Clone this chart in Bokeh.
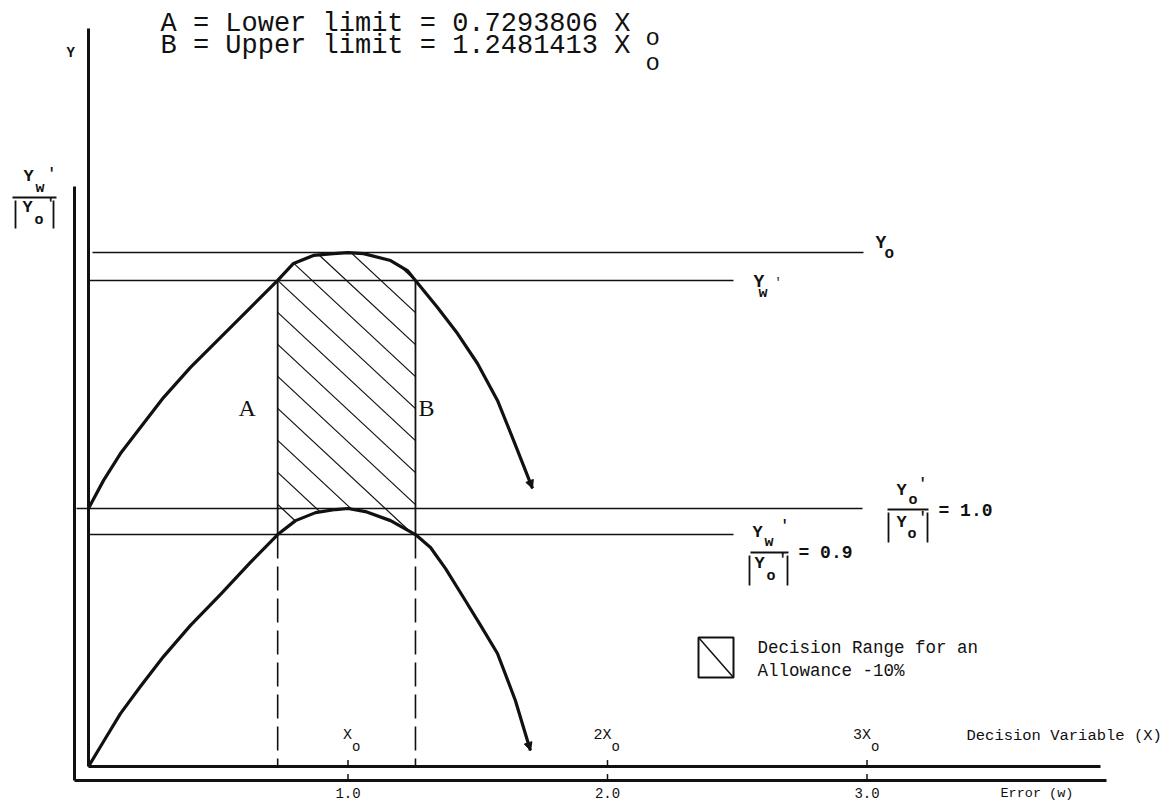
import numpy as np
from bokeh.plotting import figure
from bokeh.models import Range1d, Label, Arrow, NormalHead
from bokeh.embed import file_html
from bokeh.resources import INLINE

# ---------------- data ----------------
# x in units of X_o (decision variable), y in units of |Y_o'|
upper_x = [0.0, 0.058, 0.123, 0.200, 0.289, 0.393, 0.509, 0.624, 0.729, 0.790, 0.867,
           0.944, 1.0, 1.060, 1.164, 1.229, 1.26, 1.345, 1.422, 1.499, 1.576, 1.638, 1.711]
upper_y = [1.0, 1.109, 1.213, 1.314, 1.430, 1.547, 1.663, 1.779, 1.884, 1.950, 1.981,
           1.988, 1.992, 1.988, 1.961, 1.922, 1.884, 1.779, 1.678, 1.562, 1.419, 1.264, 1.078]
lower_x = [0.0, 0.058, 0.123, 0.200, 0.289, 0.393, 0.509, 0.624, 0.729, 0.798, 0.875,
           0.952, 1.0, 1.067, 1.164, 1.26, 1.318, 1.376, 1.445, 1.511, 1.576, 1.645, 1.703]
lower_y = [0.0, 0.097, 0.205, 0.310, 0.426, 0.547, 0.667, 0.791, 0.899, 0.953, 0.984,
           0.996, 1.0, 0.988, 0.953, 0.899, 0.849, 0.767, 0.655, 0.547, 0.438, 0.256, 0.062]

level_Yo = 1.992        # Y_o
level_Yw = 1.884        # Y_w'
ratio_o = 1.0           # Y_o'/|Y_o'|
ratio_w = 0.899         # Y_w'/|Y_o'|
A_x = 0.729             # lower limit (drawn)
B_x = 1.26              # upper limit (drawn)
A_text = "0.7293806"
B_text = "1.2481413"

tick_x = [1.0, 2.0, 3.0]
tick_labels = ["1.0", "2.0", "3.0"]
dv_labels = ["X", "2X", "3X"]

# ---------------- layout helpers (annotation placement) ----------------
X0, XS, Y0, YS = 88.0, 259.5, 766.0, 258.0
def X(px):
    return (px - X0) / XS
def Y(py):
    return (Y0 - py) / YS

W, H = 1167, 804
p = figure(width=W, height=H, output_backend="svg", toolbar_location=None,
           x_range=Range1d(X(0), X(W)), y_range=Range1d(Y(H), Y(0)),
           x_axis_location=None, y_axis_location=None, min_border=0,
           outline_line_color=None, background_fill_color="white",
           border_fill_color="white")
p.grid.visible = False

INK = "#111111"
MONO = "Liberation Mono"
SERIF = "Liberation Serif"

# ---------------- axes (double frame) ----------------
off = X(74)
p.segment(x0=[0, 0], y0=[0, 0], x1=[X(1100), 0], y1=[0, Y(28)], line_color=INK, line_width=3)
p.segment(x0=[off, off], y0=[Y(780), Y(780)], x1=[X(1106), off], y1=[Y(780), Y(186)],
          line_color=INK, line_width=3)
tx = np.array(tick_x)
p.segment(x0=tx, y0=np.zeros(3), x1=tx, y1=np.full(3, 0.025), line_color=INK, line_width=1.5)
p.segment(x0=tx, y0=np.full(3, Y(780)), x1=tx, y1=np.full(3, Y(780) + 0.025), line_color=INK, line_width=1.5)

# ---------------- horizontal reference lines ----------------
p.segment(x0=[X(92), 0, X(76), 0], y0=[level_Yo, level_Yw, ratio_o, ratio_w],
          x1=[X(863), X(733), X(862), X(733)], y1=[level_Yo, level_Yw, ratio_o, ratio_w],
          line_color=INK, line_width=1.6)

# ---------------- hatched decision range (lines clipped between the curves) ----------------
gx = np.linspace(A_x, B_x, 600)
top = np.interp(gx, upper_x, upper_y)
bot = np.interp(gx, lower_x, lower_y)
slope = 0.93 * XS / YS            # hatch direction, "\" at about 43 degrees
step = 32.0 / YS                  # vertical spacing of hatch lines
hxs, hys = [], []
for k in range(-8, 40):
    yl = level_Yw - k * step - slope * (gx - A_x)
    inside = (yl <= top + 1e-9) & (yl >= bot - 1e-9)
    idx = np.flatnonzero(inside)
    if idx.size < 2:
        continue
    runs = np.split(idx, np.flatnonzero(np.diff(idx) > 1) + 1)
    for r in runs:
        if r.size >= 2:
            hxs.append([gx[r[0]], gx[r[-1]]])
            hys.append([yl[r[0]], yl[r[-1]]])
p.multi_line(hxs, hys, line_color=INK, line_width=1.2)

# ---------------- vertical limit lines ----------------
p.segment(x0=[A_x, B_x], y0=[level_Yw, level_Yw], x1=[A_x, B_x], y1=[ratio_w, ratio_w],
          line_color=INK, line_width=1.8)
p.segment(x0=[A_x, B_x], y0=[ratio_w, ratio_w], x1=[A_x, B_x], y1=[0, 0],
          line_color=INK, line_width=1.6, line_dash="24 8")

# ---------------- curves ----------------
p.line(upper_x, upper_y, line_color=INK, line_width=3.2, line_join="round")
p.line(lower_x, lower_y, line_color=INK, line_width=3.2, line_join="round")
for xs, ys in ((upper_x, upper_y), (lower_x, lower_y)):
    p.add_layout(Arrow(end=NormalHead(size=8, fill_color=INK, line_color=INK, line_width=1),
                       x_start=xs[-2], y_start=ys[-2], x_end=xs[-1], y_end=ys[-1],
                       line_alpha=0))

# ---------------- legend box ----------------
p.quad(left=[X(698)], right=[X(733)], top=[Y(637)], bottom=[Y(677)],
       fill_alpha=0, line_color=INK, line_width=2)
p.segment(x0=[X(698)], y0=[Y(637)], x1=[X(733)], y1=[Y(677)], line_color=INK, line_width=1.5)


def lab(text, px, py, size, font=MONO, style="normal", align="left", xdata=None):
    # py is the wanted baseline (page px); compensate the renderer's baseline shift
    k = 0.42 if font == SERIF else 0.33
    xx = X(px) if xdata is None else xdata
    p.add_layout(Label(x=xx, y=Y(py - k * size), text=text, text_font=font,
                       text_font_size=f"{size}px", text_font_style=style,
                       text_align=align, text_baseline="alphabetic", text_color=INK,
                       x_offset=0 if xdata is None else px))


def bar(px0, px1, py):
    p.segment(x0=[X(px0)], y0=[Y(py)], x1=[X(px1)], y1=[Y(py)], line_color=INK, line_width=1.8)


def vbar(px, py0, py1):
    p.segment(x0=[X(px)], y0=[Y(py0)], x1=[X(px)], y1=[Y(py1)], line_color=INK, line_width=1.8)


# title lines
lab("A = Lower limit = " + A_text + " X", 160, 32, 27)
lab("o", 645, 46, 24)
lab("B = Upper limit = " + B_text + " X", 160, 54, 27)
lab("o", 645, 71, 24)

# axis labels
lab("Y", 66, 57, 14, style="bold")
# left fraction  Y_w' / |Y_o'|
lab("Y", 23, 182, 17, style="bold"); lab("w", 35, 193, 15, style="bold"); lab("'", 47, 178, 14, style="bold")
bar(12, 56, 197)
vbar(15, 200, 228); vbar(53, 200, 228)
lab("Y", 22, 213, 17, style="bold"); lab("o", 34, 225, 15, style="bold"); lab("'", 46, 208, 14, style="bold")

# line labels
lab("Y", 875, 248, 18, style="bold"); lab("o", 884, 259, 16, style="bold")
lab("Y", 753, 287, 18, style="bold"); lab("w", 758, 298, 15, style="bold"); lab("'", 774, 286, 12)

# = 1.0 fraction
lab("Y", 896, 496, 17, style="bold"); lab("o", 908, 505, 15, style="bold"); lab("'", 918, 488, 14, style="bold")
bar(887, 928, 509)
vbar(888, 512, 542); vbar(927, 512, 542)
lab("Y", 896, 528, 17, style="bold"); lab("o", 907, 539, 15, style="bold"); lab("'", 918, 522, 14, style="bold")
lab("= 1.0", 938, 516, 18, style="bold")

# = 0.9 fraction
lab("Y", 752, 538, 17, style="bold"); lab("w", 764, 547, 15, style="bold"); lab("'", 780, 530, 14, style="bold")
bar(750, 788, 552)
vbar(749, 555, 585); vbar(787, 555, 585)
lab("Y", 754, 569, 17, style="bold"); lab("o", 766, 581, 15, style="bold"); lab("'", 778, 564, 14, style="bold")
lab("= 0.9", 798, 558, 18, style="bold")

# A / B
lab("A", 238, 418, 24, font=SERIF)
lab("B", 418, 418, 24, font=SERIF)

# legend text
lab("Decision Range for an", 757, 653, 17.5)
lab("Allowance -10%", 757, 676, 17.5)

# x-axis labels
for t, lt, dl in zip(tick_x, tick_labels, dv_labels):
    lab(lt, 0, 797, 14, align="center", xdata=t)
    lab(dl, 4, 740, 15, align="right", xdata=t)
    lab("o", 4, 751, 14, xdata=t)
lab("Decision Variable (X)", 966, 741, 15.5)
lab("Error (w)", 1000, 797, 13.5)

open("out.html", "w").write(file_html(p, INLINE))
